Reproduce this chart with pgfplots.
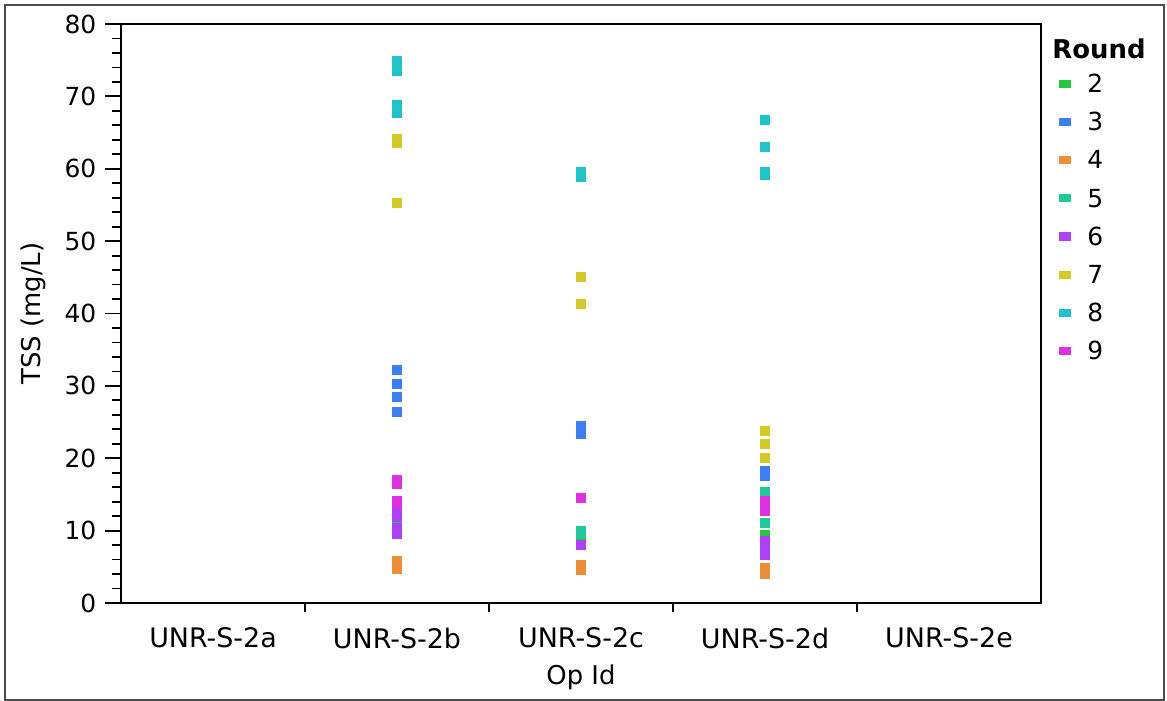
\documentclass[border=0pt]{standalone}
\usepackage{fontspec}
\setmainfont{DejaVu Sans}
\usepackage{pgfplots}
\pgfplotsset{compat=1.18}
\definecolor{rtwo}{RGB}{38,199,61}
\definecolor{rthree}{RGB}{61,127,240}
\definecolor{rfour}{RGB}{236,142,55}
\definecolor{rfive}{RGB}{34,201,151}
\definecolor{rsix}{RGB}{174,65,245}
\definecolor{rseven}{RGB}{211,202,42}
\definecolor{reight}{RGB}{34,194,201}
\definecolor{rnine}{RGB}{223,48,223}
\newcommand{\lblfont}{\fontsize{12.5}{15}\selectfont}
\begin{document}
\lblfont
\begin{tikzpicture}[font=\lblfont]
\useasboundingbox (-60.5bp,-49bp) rectangle (523bp,301.5bp);
\draw[line width=0.6bp, black!70] (-58bp,-48.5bp) rectangle (521.5bp,299bp);
\begin{axis}[
  at={(0,0)}, anchor=south west,
  scale only axis, width=460bp, height=289.5bp,
  xmin=-0.5, xmax=4.5, ymin=0, ymax=80,
  xtick={0,1,2,3,4},
  xticklabels={UNR-S-2a,UNR-S-2b,UNR-S-2c,UNR-S-2d,UNR-S-2e},
  minor xtick={0.5,1.5,2.5,3.5},
  every major x tick/.append style={draw=none},
  ytick={0,10,...,80}, minor y tick num=4,
  xtick pos=bottom, ytick pos=left,
  tick align=outside,
  major tick length=8bp, minor tick length=4.5bp,
  axis line style={line width=1.3bp},
  every tick/.append style={line width=0.9bp, black},
  tick label style={font=\lblfont},
  xticklabel style={font=\fontsize{13.5}{16}\selectfont},
  /pgf/number format/assume math mode=true,
  xlabel={Op Id}, ylabel={TSS (mg/L)},
  label style={font=\fontsize{13}{15}\selectfont},
  xlabel style={at={(axis description cs:0.5,-0.128)}, anchor=center},
  ylabel style={at={(axis description cs:-0.0957,0.5)}, anchor=center},
  legend cell align=left,
  legend style={draw=none, fill=none, inner sep=0pt, at={(rel axis cs:1.0187,0.914)}, anchor=north west,
    font=\lblfont, row sep=9.7bp,
    nodes={inner sep=0pt, text height=9bp, text depth=0bp}},
  legend image code/.code={\fill[#1] (0bp,-1.8bp) rectangle (5.5bp,1.8bp); \path (0bp,-4.5bp) (14bp,4.5bp);},
  clip=false,
]
\addplot[only marks, mark=square*, color=rtwo, mark size=2.25bp, mark options={line width=0pt}] coordinates {
(1,11.1) (2,8.8) (3,9.4)};
\addlegendentry{2}
\addplot[only marks, mark=square*, color=rthree, mark size=2.25bp, mark options={line width=0pt}] coordinates {
(1,32.2) (1,30.2) (1,28.4) (1,26.4)
(2,24.4) (2,23.4)
(3,18.2) (3,17.6)};
\addlegendentry{3}
\addplot[only marks, mark=square*, color=rfour, mark size=2.25bp, mark options={line width=0pt}] coordinates {
(1,5.8) (1,5.2) (1,4.7)
(2,5.2) (2,4.6)
(3,4.8) (3,4.0)};
\addlegendentry{4}
\addplot[only marks, mark=square*, color=rfive, mark size=2.25bp, mark options={line width=0pt}] coordinates {
(2,9.9) (2,9.6)
(3,15.4) (3,11.0)};
\addlegendentry{5}
\addplot[only marks, mark=square*, color=rsix, mark size=2.25bp, mark options={line width=0pt}] coordinates {
(1,13.3) (1,11.95) (1,10.3) (1,9.6)
(2,8.0)
(3,8.6) (3,7.9) (3,7.3) (3,6.7)};
\addlegendentry{6}
\addplot[only marks, mark=square*, color=rseven, mark size=2.25bp, mark options={line width=0pt}] coordinates {
(1,64.1) (1,63.6) (1,55.2)
(2,45.0) (2,41.3)
(3,23.8) (3,22.0) (3,20.0)};
\addlegendentry{7}
\addplot[only marks, mark=square*, color=reight, mark size=2.25bp, mark options={line width=0pt}] coordinates {
(1,74.9) (1,73.5) (1,68.8) (1,67.7)
(2,59.6) (2,58.9)
(3,66.8) (3,63.0) (3,59.6) (3,59.2)};
\addlegendentry{8}
\addplot[only marks, mark=square*, color=rnine, mark size=2.25bp, mark options={line width=0pt}] coordinates {
(1,17.0) (1,16.5) (1,14.1) (1,13.8)
(2,14.5)
(3,14.1) (3,13.5) (3,12.7)};
\addlegendentry{9}
\node[anchor=west, font=\fontsize{13}{15}\selectfont\bfseries, inner sep=0pt] at (rel axis cs:1.012,0.957) {Round};
\end{axis}
\end{tikzpicture}
\end{document}
